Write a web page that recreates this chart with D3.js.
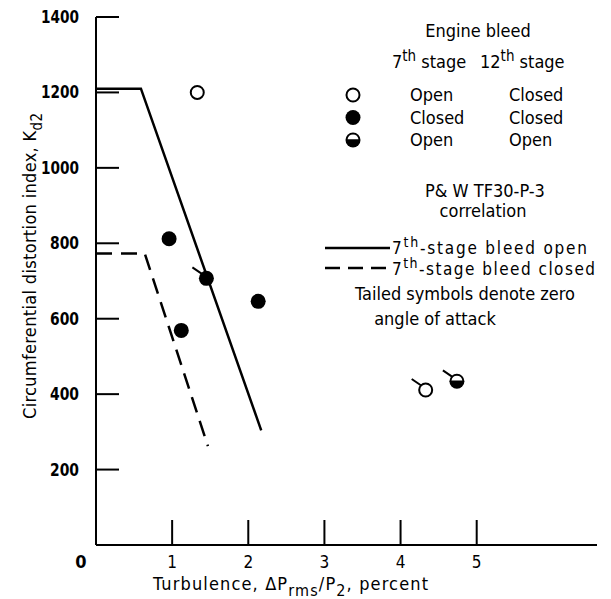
<!DOCTYPE html>
<html>
<head>
<meta charset="utf-8">
<script src="https://cdn.jsdelivr.net/npm/d3@7"></script>
<style>
  body { margin: 0; background: #fff; }
  text { font-family: "Liberation Sans Narrow", "DejaVu Sans Condensed", sans-serif; fill: #000; }
</style>
</head>
<body>
<div id="chart"></div>
<script>
// data points
const pointX = [1.33, 0.96, 1.45, 2.13, 1.12, 4.33, 4.74];
const pointY = [1200, 812, 707, 646, 569, 411, 434];
const pointSymbol = ["open", "closed", "closed", "closed", "closed", "open", "half"];
const pointTailed = [false, false, true, false, false, true, true];

// P&W TF30-P-3 correlation lines
const openLineX = [0, 0.59, 2.17];
const openLineY = [1210, 1210, 304];
const closedLineX = [0, 0.64, 1.47];
const closedLineY = [773, 773, 262];

const xTicks = [1, 2, 3, 4, 5];
const yTicks = [200, 400, 600, 800, 1000, 1200, 1400];

const legendRows = [
  { symbol: "open", stage7: "Open", stage12: "Closed" },
  { symbol: "closed", stage7: "Closed", stage12: "Closed" },
  { symbol: "half", stage7: "Open", stage12: "Open" },
];

const width = 611;
const height = 599;
const r = 7.5;

const svg = d3
  .select("#chart")
  .append("svg")
  .attr("width", width)
  .attr("height", height);

const x = d3.scaleLinear().domain([0, 6.58]).range([96, 597]);
const y = d3.scaleLinear().domain([0, 1400]).range([545, 17]);

// axes lines
svg.append("line")
  .attr("x1", x(0)).attr("x2", x(0))
  .attr("y1", y(1400)).attr("y2", y(0))
  .attr("stroke", "#000").attr("stroke-width", 2);
svg.append("line")
  .attr("x1", x(0)).attr("x2", x(6.58))
  .attr("y1", y(0)).attr("y2", y(0))
  .attr("stroke", "#000").attr("stroke-width", 2);

// y ticks point inward (to the right)
svg.selectAll(".ytick")
  .data(yTicks)
  .join("line")
  .attr("class", "ytick")
  .attr("x1", x(0)).attr("x2", x(0) + 23)
  .attr("y1", (d) => y(d)).attr("y2", (d) => y(d))
  .attr("stroke", "#000").attr("stroke-width", 2);

svg.selectAll(".ylab")
  .data(yTicks)
  .join("text")
  .attr("class", "ylab")
  .attr("x", 79)
  .attr("y", (d) => y(d) + 6)
  .attr("text-anchor", "end")
  .attr("font-size", 18)
  .attr("font-weight", "bold")
  .attr("textLength", (d) => (d >= 1000 ? 38 : 29))
  .attr("lengthAdjust", "spacingAndGlyphs")
  .text((d) => d);

// x ticks point upward
svg.selectAll(".xtick")
  .data(xTicks)
  .join("line")
  .attr("class", "xtick")
  .attr("x1", (d) => x(d)).attr("x2", (d) => x(d))
  .attr("y1", y(0)).attr("y2", y(0) - 25)
  .attr("stroke", "#000").attr("stroke-width", 2);

svg.selectAll(".xlab")
  .data(xTicks)
  .join("text")
  .attr("class", "xlab")
  .attr("x", (d) => x(d))
  .attr("y", 568)
  .attr("text-anchor", "middle")
  .attr("font-size", 17)
  .text((d) => d);

svg.append("text")
  .attr("x", 81).attr("y", 568)
  .attr("text-anchor", "middle")
  .attr("font-size", 18)
  .attr("font-weight", "bold")
  .text("0");

// axis titles
const xTitle = svg.append("text")
  .attr("x", 153).attr("y", 590)
  .attr("font-size", 18)
  .attr("textLength", 275)
  .attr("lengthAdjust", "spacing");
xTitle.append("tspan").text("Turbulence,  \u0394P");
xTitle.append("tspan").attr("dy", 6).attr("font-size", 16).text("rms");
xTitle.append("tspan").attr("dy", -6).text("/P");
xTitle.append("tspan").attr("dy", 6).attr("font-size", 16).text("2");
xTitle.append("tspan").attr("dy", -6).text(",  percent");

const yTitle = svg.append("text")
  .attr("transform", "translate(36,266) rotate(-90)")
  .attr("text-anchor", "middle")
  .attr("font-size", 18)
  .attr("textLength", 306)
  .attr("lengthAdjust", "spacing");
yTitle.append("tspan").text("Circumferential distortion index,  K");
yTitle.append("tspan").attr("dy", 6).attr("font-size", 15).text("d2");

// correlation lines
const line = d3.line().x((d) => x(d[0])).y((d) => y(d[1]));
svg.append("path")
  .datum(d3.zip(openLineX, openLineY))
  .attr("d", line)
  .attr("fill", "none").attr("stroke", "#000").attr("stroke-width", 2.5);
svg.append("path")
  .datum(d3.zip(closedLineX, closedLineY))
  .attr("d", line)
  .attr("fill", "none").attr("stroke", "#000").attr("stroke-width", 2.5)
  .attr("stroke-dasharray", "16,9");

// draws one symbol at (cx, cy)
function drawSymbol(g, kind, cx, cy, tailed) {
  if (tailed) {
    g.append("line")
      .attr("x1", cx - 14).attr("y1", cy - 11)
      .attr("x2", cx - r * 0.6).attr("y2", cy - r * 0.6)
      .attr("stroke", "#000").attr("stroke-width", 2);
  }
  if (kind === "open") {
    g.append("circle").attr("cx", cx).attr("cy", cy).attr("r", r - 1)
      .attr("fill", "#fff").attr("stroke", "#000").attr("stroke-width", 2);
  } else if (kind === "closed") {
    g.append("circle").attr("cx", cx).attr("cy", cy).attr("r", r)
      .attr("fill", "#000");
  } else {
    g.append("circle").attr("cx", cx).attr("cy", cy).attr("r", r)
      .attr("fill", "#000");
    // white cap above a chord
    const rr = r - 2;
    const h = -rr * 0.15;
    const hw = Math.sqrt(rr * rr - h * h);
    g.append("path")
      .attr("d", `M${cx - hw},${cy + h} A${rr},${rr} 0 0 1 ${cx + hw},${cy + h} Z`)
      .attr("fill", "#fff");
  }
}

const pts = svg.append("g");
pointX.forEach((px, i) => {
  drawSymbol(pts, pointSymbol[i], x(px), y(pointY[i]), pointTailed[i]);
});

// legend
const leg = svg.append("g");
leg.append("text").attr("x", 478).attr("y", 37).attr("text-anchor", "middle")
  .attr("font-size", 18).text("Engine bleed");

function stageLabel(xp, yp, num, rest, size, len) {
  const t = leg.append("text").attr("x", xp).attr("y", yp).attr("font-size", size);
  if (len) t.attr("textLength", len).attr("lengthAdjust", "spacing");
  t.append("tspan").text(num);
  t.append("tspan").attr("dy", -7).attr("font-size", size - 3).text("th");
  t.append("tspan").attr("dy", 7).text(rest);
}
stageLabel(392, 68, "7", " stage", 18);
stageLabel(480, 68, "12", " stage", 18);

legendRows.forEach((row, i) => {
  const yy = 95 + i * 22.5;
  drawSymbol(leg, row.symbol, 353, yy, false);
  leg.append("text").attr("x", 410).attr("y", yy + 6).attr("font-size", 18).text(row.stage7);
  leg.append("text").attr("x", 509).attr("y", yy + 6).attr("font-size", 18).text(row.stage12);
});

leg.append("text").attr("x", 485).attr("y", 197).attr("text-anchor", "middle")
  .attr("font-size", 18).text("P& W TF30-P-3");
leg.append("text").attr("x", 483).attr("y", 217).attr("text-anchor", "middle")
  .attr("font-size", 18).text("correlation");

leg.append("line").attr("x1", 325).attr("x2", 390).attr("y1", 248).attr("y2", 248)
  .attr("stroke", "#000").attr("stroke-width", 2.5);
leg.append("line").attr("x1", 325).attr("x2", 390).attr("y1", 268).attr("y2", 268)
  .attr("stroke", "#000").attr("stroke-width", 2.5).attr("stroke-dasharray", "15,8");
stageLabel(392, 254, "7", "-stage bleed open", 17, 195);
stageLabel(392, 275, "7", "-stage bleed closed", 17, 203);

leg.append("text").attr("x", 465).attr("y", 300).attr("text-anchor", "middle")
  .attr("font-size", 18).text("Tailed symbols denote zero");
leg.append("text").attr("x", 435).attr("y", 325).attr("text-anchor", "middle")
  .attr("font-size", 18).text("angle of attack");
</script>
</body>
</html>
